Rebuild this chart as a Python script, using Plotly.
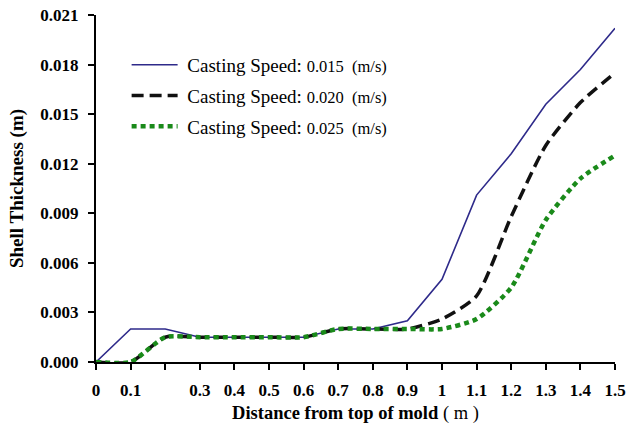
import plotly.graph_objects as go

x_vals = [0, 0.1, 0.2, 0.3, 0.4, 0.5, 0.6, 0.7, 0.8, 0.9, 1.0, 1.1, 1.2, 1.3, 1.4, 1.5]
speed_015 = [0.0, 0.0020, 0.0020, 0.0015, 0.0015, 0.0015, 0.0015, 0.0020, 0.0020, 0.0025,
             0.0050, 0.0101, 0.0126, 0.0156, 0.0177, 0.0202]
speed_020 = [0.0, 0.0, 0.0015, 0.0015, 0.0015, 0.0015, 0.0015, 0.0020, 0.0020, 0.0020,
             0.0026, 0.0040, 0.0088, 0.0131, 0.0157, 0.0175]
speed_025 = [0.0, 0.0, 0.0015, 0.0015, 0.0015, 0.0015, 0.0015, 0.0020, 0.0020, 0.0020,
             0.0020, 0.0026, 0.0045, 0.0086, 0.0111, 0.0125]
labels = ["0.015", "0.020", "0.025"]

x_tickvals = [0, 0.1, 0.2, 0.3, 0.4, 0.5, 0.6, 0.7, 0.8, 0.9, 1.0, 1.1, 1.2, 1.3, 1.4, 1.5]
x_ticktext = ["0", "0.1", "", "0.3", "0.4", "0.5", "0.6", "0.7", "0.8", "0.9", "1",
              "1.1", "1.2", "1.3", "1.4", "1.5"]
y_tickvals = [0, 0.003, 0.006, 0.009, 0.012, 0.015, 0.018, 0.021]

SERIF = "Liberation Serif, Times New Roman, serif"

def name(v):
    return ("&nbsp;Casting Speed: <span style='font-size:16.5px'>" + v + "&nbsp; (m/s)</span>")

fig = go.Figure()
fig.add_trace(go.Scatter(x=x_vals, y=speed_015, mode="lines", name=name(labels[0]),
                         legendgroup="a",
                         line=dict(color="#2e2a8a", width=1.6), cliponaxis=False))
fig.add_trace(go.Scatter(x=x_vals, y=speed_020, mode="lines", name=name(labels[1]),
                         legendgroup="b",
                         line=dict(color="#111111", width=3.5, dash="12px,6px",
                                   shape="spline", smoothing=0.6), cliponaxis=False))
fig.add_trace(go.Scatter(x=x_vals, y=speed_025, mode="lines", name=name(labels[2]),
                         legendgroup="c",
                         line=dict(color="#1a8a1a", width=4.5, dash="5px,4px",
                                   shape="spline", smoothing=0.6), cliponaxis=False))

fig.update_layout(
    width=627, height=427,
    margin=dict(l=96, r=12, t=15, b=65, autoexpand=False),
    paper_bgcolor="white", plot_bgcolor="white",
    font=dict(family=SERIF, color="black"),
    legend=dict(x=0.059, y=0.911, xanchor="left", yanchor="top",
                bgcolor="rgba(0,0,0,0)", font=dict(size=19, family=SERIF),
                itemwidth=46, tracegroupgap=3),
    xaxis=dict(range=[0, 1.5], tickvals=x_tickvals, ticktext=x_ticktext,
               automargin=False,
               showgrid=False, zeroline=False, showline=True, linecolor="black",
               linewidth=2, ticks="outside", ticklen=6, tickwidth=2, tickcolor="black",
               ticklabelstandoff=6,
               tickfont=dict(size=17, family=SERIF, weight="bold"),
               title=dict(text="<b>Distance from top of mold</b> ( m )",
                          font=dict(size=18.5, family=SERIF), standoff=7)),
    yaxis=dict(range=[0, 0.021], tickvals=y_tickvals, tickformat=".3f",
               automargin=False,
               showgrid=False, zeroline=False, showline=True, linecolor="black",
               linewidth=2, ticks="outside", ticklen=6, tickwidth=2, tickcolor="black",
               ticklabelstandoff=6,
               tickfont=dict(size=17, family=SERIF, weight="bold"),
               title=dict(text="<b>Shell Thickness (m)</b>",
                          font=dict(size=19, family=SERIF), standoff=12)),
)

fig.write_html("out.html")
